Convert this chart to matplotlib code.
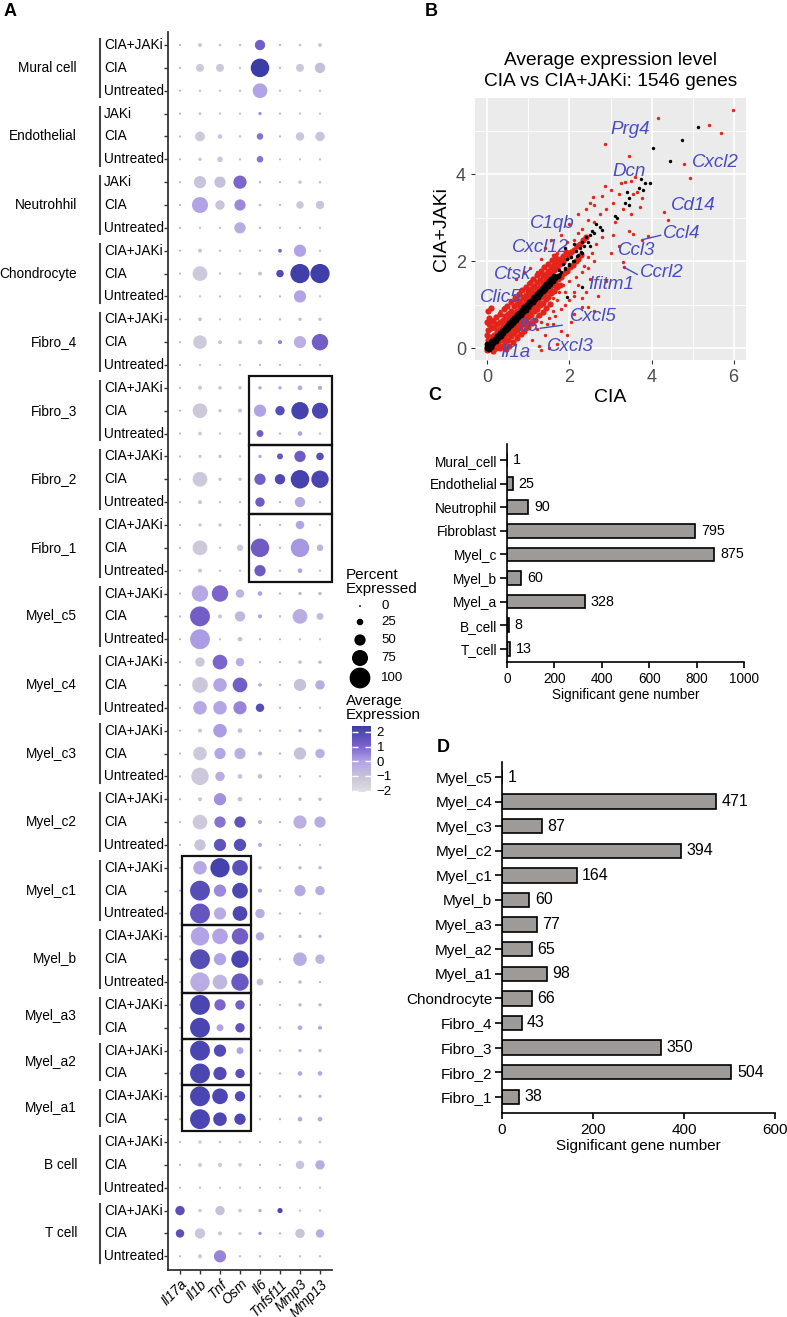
import numpy as np
import matplotlib
matplotlib.use('Agg')
import matplotlib.pyplot as plt
from matplotlib.colors import LinearSegmentedColormap, Normalize
from matplotlib.patches import Rectangle
from matplotlib.cm import ScalarMappable
import matplotlib.transforms as mtrans

plt.rcParams['font.family'] = ['Liberation Sans', 'DejaVu Sans']

W, H = 787, 1317

########## Panel A data ##########
genes = ['Il17a', 'Il1b', 'Tnf', 'Osm', 'Il6', 'Tnfsf11', 'Mmp3', 'Mmp13']
std = ['CIA+JAKi', 'CIA', 'Untreated']
two = ['CIA+JAKi', 'CIA']
groups = ['Mural cell', 'Endothelial', 'Neutrohhil', 'Chondrocyte', 'Fibro_4', 'Fibro_3',
          'Fibro_2', 'Fibro_1', 'Myel_c5', 'Myel_c4', 'Myel_c3', 'Myel_c2', 'Myel_c1',
          'Myel_b', 'Myel_a3', 'Myel_a2', 'Myel_a1', 'B cell', 'T cell']
group_conds = [std, ['JAKi', 'CIA', 'Untreated'], ['JAKi', 'CIA', 'Untreated'], std, std, std,
               std, std, std, std, std, std, std, std, two, two, two, std, std]

# percent expressed, one row per group/condition (top to bottom)
pct = [
    [2, 10, 4, 4, 45, 3, 4, 10], [2, 32, 32, 3, 88, 3, 32, 45], [2, 3, 3, 3, 68, 2, 3, 3],        # Mural
    [2, 5, 3, 3, 8, 2, 3, 3], [2, 42, 15, 4, 25, 2, 35, 40], [2, 8, 20, 3, 25, 2, 3, 3],          # Endo
    [2, 55, 50, 60, 4, 2, 8, 4], [2, 75, 40, 50, 4, 2, 30, 35], [2, 3, 3, 50, 3, 2, 3, 3],        # Neutro
    [2, 12, 3, 3, 3, 10, 55, 3], [2, 68, 4, 4, 10, 30, 92, 92], [2, 3, 3, 3, 3, 2, 55, 3],        # Chondro
    [2, 10, 3, 3, 3, 3, 8, 8], [2, 62, 12, 12, 15, 12, 55, 77], [2, 3, 3, 3, 3, 2, 3, 3],         # Fibro_4
    [2, 12, 8, 8, 8, 8, 15, 12], [2, 68, 8, 12, 55, 40, 82, 75], [2, 10, 3, 3, 27, 3, 15, 3],     # Fibro_3
    [2, 8, 8, 3, 8, 22, 50, 30], [2, 68, 8, 8, 50, 45, 88, 82], [2, 12, 3, 3, 40, 3, 45, 3],      # Fibro_2
    [2, 8, 8, 3, 3, 3, 35, 3], [2, 68, 3, 25, 88, 3, 88, 25], [2, 12, 3, 3, 50, 3, 15, 3],        # Fibro_1
    [2, 77, 77, 35, 15, 3, 8, 8], [2, 95, 12, 45, 12, 3, 68, 27], [2, 95, 3, 15, 3, 2, 3, 3],     # Myel_c5
    [2, 40, 68, 35, 3, 3, 8, 8], [2, 73, 62, 68, 10, 3, 55, 40], [2, 62, 62, 60, 35, 3, 3, 3],    # Myel_c4
    [2, 12, 62, 15, 3, 3, 8, 8], [2, 62, 50, 50, 12, 3, 55, 40], [2, 82, 40, 15, 15, 3, 3, 3],    # Myel_c3
    [2, 12, 55, 15, 3, 3, 8, 8], [2, 68, 50, 50, 12, 3, 60, 50], [2, 50, 55, 55, 12, 3, 3, 3],    # Myel_c2
    [2, 62, 92, 73, 8, 3, 8, 8], [2, 95, 55, 73, 12, 3, 50, 40], [2, 95, 55, 68, 40, 3, 3, 3],    # Myel_c1
    [2, 88, 73, 77, 35, 3, 8, 8], [2, 95, 55, 82, 4, 3, 62, 40], [2, 92, 68, 82, 27, 3, 8, 3],    # Myel_b
    [2, 95, 50, 40, 3, 3, 8, 8], [2, 95, 27, 40, 3, 3, 15, 12],                                   # Myel_a3
    [2, 95, 55, 27, 3, 3, 8, 8], [2, 95, 60, 40, 3, 3, 15, 15],                                   # Myel_a2
    [2, 95, 73, 45, 3, 3, 8, 8], [2, 95, 62, 50, 3, 3, 15, 15],                                   # Myel_a1
    [2, 8, 5, 5, 2, 2, 10, 5], [2, 12, 12, 10, 3, 2, 35, 40], [2, 3, 3, 3, 2, 2, 3, 3],           # B cell
    [40, 8, 40, 10, 8, 18, 3, 3], [35, 45, 12, 8, 8, 3, 40, 35], [2, 12, 55, 3, 3, 2, 3, 3],      # T cell
]
# average (scaled) expression
avg = [
    [-0.5, -1, -1, -1, 1.2, -0.5, -1, -1], [-0.5, -1.3, -1.2, -1, 2.4, -0.5, -1.2, -0.9], [-0.5, -1, -1, -1, 0, -0.5, -1, -1],
    [-0.5, -1, -1, -1, 0.3, -0.5, -1, -1], [-0.5, -1.3, -1.2, -1, 0.8, -0.5, -1.2, -1.1], [-0.5, -1, -1.2, -1, 0.8, -0.5, -1, -1],
    [-0.5, -1.1, -1, 1.0, -0.5, -0.5, -1, -1], [-0.5, 0, -1.1, 0.4, -0.5, -0.5, -1.2, -1.1], [-0.5, -1, -1, -0.3, -0.5, -0.5, -1, -1],
    [-0.5, -1.2, -1, -1, -0.5, 1.2, 0, -1], [-0.5, -1.3, -1, -1, -0.8, 1.9, 2.3, 2.3], [-0.5, -1, -1, -1, -0.5, -0.5, 0, -1],
    [-0.5, -1, -1, -1, -0.5, -0.5, -0.8, -0.8], [-0.5, -1.3, -1.2, -1.2, -0.9, 0.6, -0.4, 1.2], [-0.5, -1, -1, -1, -0.5, -0.5, -1, -1],
    [-0.5, -1.2, -1, -1, 0, 0, -0.2, 0], [-0.5, -1.3, -1, -1.2, 0, 1.8, 2.2, 2.1], [-0.5, -1.2, -1, -1, 1.2, -0.5, 0, -1],
    [-0.5, -1.2, -1, -1, 0, 1.5, 1.3, 1.8], [-0.5, -1.3, -1, -1, 1.2, 2.0, 2.2, 2.1], [-0.5, -1.2, -1, -1, 1.3, -0.5, -0.2, -1],
    [-0.5, -1.2, -1, -1, -0.5, -0.5, 0, -1], [-0.5, -1.3, -1, -1.3, 1.3, -0.5, 0.2, -0.6], [-0.5, -1.2, -1, -1, 1.3, -0.5, 0, -1],
    [-0.5, -0.2, 1.0, -0.6, 0, -0.5, -0.5, -0.5], [-0.5, 1.2, -1.2, -0.7, 0, -0.5, -0.3, -0.8], [-0.5, 0.1, -1, -1, -0.5, -0.5, -1, -1],
    [-0.5, -1.2, 1.0, -0.3, -0.5, -0.5, -0.5, -0.5], [-0.5, -1.2, -0.1, 1.2, -0.3, -0.5, -1.0, -0.3], [-0.5, -0.2, -0.1, 0.5, 1.8, -0.5, -0.8, -0.8],
    [-0.5, -1.2, 0.1, -1, -0.5, -0.5, -0.5, -0.5], [-0.5, -1.3, -0.1, -0.4, -0.5, -0.5, -1.0, -0.4], [-0.5, -1.3, -0.3, -1, -0.9, -0.5, -0.8, -0.8],
    [-0.5, -1.2, 0.3, -1, -0.5, -0.5, -0.5, -0.5], [-0.5, -1.3, 0.8, 1.6, -0.5, -0.5, -0.4, -0.3], [-0.5, -1.1, 1.6, 1.8, -0.2, -0.5, -0.8, -0.8],
    [-0.5, -0.2, 2.2, 1.7, -0.3, -0.5, -0.5, -0.5], [-0.5, 1.8, 0.4, 2.0, -0.2, -0.5, -0.2, -0.3], [-0.5, 1.5, -0.3, 2.0, -0.3, -0.5, -0.8, -0.8],
    [-0.5, 0, 0, 1.2, -0.2, -0.5, -0.5, -0.5], [-0.5, 1.8, 0, 2.1, -0.5, -0.5, -0.3, -0.6], [-0.5, -0.3, -0.7, 1.4, -0.9, -0.5, -0.5, -0.8],
    [-0.5, 2.1, 1.0, 1.2, -0.5, -0.5, -0.5, -0.5], [-0.5, 2.1, 0, 1.6, -0.5, -0.5, -0.2, -0.2],
    [-0.5, 2.1, 1.9, 0, -0.5, -0.5, -0.5, -0.5], [-0.5, 2.1, 1.9, 1.7, -0.5, -0.5, -0.2, -0.2],
    [-0.5, 2.1, 2.0, 1.9, -0.5, -0.5, -0.5, -0.5], [-0.5, 2.1, 2.0, 2.0, -0.5, -0.5, -0.2, -0.2],
    [-0.5, -1.2, -1, -1, -0.5, -0.5, -1, -1], [-0.5, -1.3, -1.2, -1.2, -0.5, -0.5, -1.1, -0.3], [-0.5, -1, -1, -1, -0.5, -0.5, -1, -1],
    [1.7, -1.2, -1.0, -1.2, 0, 2.0, -0.8, -0.8], [1.7, -1.2, -1.2, -1.2, 0.3, -0.5, -1.1, -0.3], [-0.5, -1.2, 0.5, -1, -0.5, -0.5, -0.8, -0.8],
]
# boxed blocks: (group, first gene, last gene)
boxes = [('Fibro_3', 'Il6', 'Mmp13'), ('Fibro_2', 'Il6', 'Mmp13'), ('Fibro_1', 'Il6', 'Mmp13'),
         ('Myel_c1', 'Il1b', 'Osm'), ('Myel_b', 'Il1b', 'Osm'), ('Myel_a3', 'Il1b', 'Osm'),
         ('Myel_a2', 'Il1b', 'Osm'), ('Myel_a1', 'Il1b', 'Osm')]
legend_pct = [0, 25, 50, 75, 100]

########## Panel B data ##########
# dense band around the diagonal
red_core_x = [0.02, 0.09, 0.16, 0.23, 0.30, 0.37, 0.44, 0.51, 0.58, 0.65, 0.72, 0.79, 0.86, 0.93, 1.00, 1.07, 1.14, 1.21, 1.28, 1.35, 1.42, 1.49, 1.56, 1.63, 1.70, 1.77, 1.84, 1.91,
              0.02, 0.09, 0.16, 0.23, 0.30, 0.37, 0.44, 0.51, 0.58, 0.65, 0.72, 0.79, 0.86, 0.93, 1.00, 1.07, 1.14, 1.21, 1.28, 1.35, 1.42, 1.49, 1.56, 1.63, 1.70, 1.77, 1.84, 1.91, 1.98, 2.05, 2.12, 2.19, 2.26, 2.33, 2.40,
              0.12, 0.19, 0.26, 0.33, 0.40, 0.47, 0.54, 0.61, 0.68, 0.75, 0.82, 0.89, 0.96, 1.03, 1.10, 1.17, 1.24, 1.31, 1.38, 1.45, 1.52, 1.59, 1.66, 1.73, 1.80, 1.87, 1.94, 2.01, 2.08, 2.15, 2.22, 2.29,
              0.30, 0.37, 0.44, 0.51, 0.58, 0.65, 0.72, 0.79, 0.86, 0.93, 1.00, 1.07, 1.14, 1.21, 1.28, 1.35, 1.42, 1.49, 1.56, 1.63, 1.70, 1.77,
              0.00, 0.04, 0.00, 0.06, 0.12, 0.10, 0.20, 0.28, 0.00, 0.15, 0.02, 0.08,
              0.05, 0.14, 0.22, 0.31, 0.40, 0.49, 0.58, 0.67, 0.76, 0.85, 0.94, 1.03, 1.12, 1.21, 1.30, 1.39, 1.48, 1.57, 1.66,
              0.45, 0.54, 0.63, 0.72, 0.81, 0.90, 0.99, 1.08, 1.17, 1.26, 1.35, 1.44, 1.53]
red_core_y = [0.42, 0.46, 0.50, 0.55, 0.61, 0.66, 0.75, 0.80, 0.86, 0.97, 1.01, 1.08, 1.17, 1.22, 1.31, 1.36, 1.43, 1.52, 1.57, 1.66, 1.71, 1.78, 1.87, 1.92, 2.01, 2.06, 2.13, 2.21,
              0.20, 0.26, 0.30, 0.39, 0.44, 0.52, 0.58, 0.67, 0.72, 0.81, 0.86, 0.95, 1.00, 1.09, 1.14, 1.23, 1.28, 1.37, 1.42, 1.51, 1.56, 1.65, 1.70, 1.79, 1.84, 1.93, 1.98, 2.07, 2.12, 2.21, 2.26, 2.35, 2.41, 2.49, 2.56,
              -0.02, 0.05, 0.10, 0.19, 0.24, 0.33, 0.38, 0.47, 0.52, 0.61, 0.66, 0.75, 0.80, 0.89, 0.94, 1.03, 1.08, 1.17, 1.22, 1.31, 1.36, 1.45, 1.50, 1.59, 1.64, 1.73, 1.78, 1.87, 1.92, 2.01, 2.06, 2.15,
              0.01, 0.06, 0.15, 0.20, 0.29, 0.34, 0.43, 0.48, 0.57, 0.62, 0.71, 0.76, 0.85, 0.90, 0.99, 1.04, 1.13, 1.18, 1.27, 1.32, 1.41, 1.46,
              0.60, 0.70, 0.30, 0.10, 0.62, 0.00, 0.01, 0.05, -0.05, -0.06, 0.85, 0.92,
              0.55, 0.62, 0.72, 0.80, 0.90, 0.98, 1.07, 1.15, 1.24, 1.33, 1.42, 1.50, 1.60, 1.68, 1.78, 1.86, 1.95, 2.04, 2.12,
              -0.02, 0.06, 0.14, 0.24, 0.32, 0.40, 0.50, 0.58, 0.66, 0.76, 0.84, 0.92, 1.02]
red_x = [0.7, 0.9, 1.05, 1.3, 1.4, 1.6, 1.8, 1.55, 1.2, 1.0, 2.0, 2.2, 2.6, 2.8, 3.0, 3.25, 2.4,
         1.2, 1.3, 1.5, 1.6, 1.8, 2.0, 2.1, 2.3, 2.4, 2.2, 2.5, 2.7, 2.9, 2.6, 1.9, 1.7, 1.4, 1.1, 1.25, 1.5, 1.7, 1.3, 1.8, 1.95, 2.05,
         3.0, 3.2, 3.45, 3.1, 3.5, 3.65, 3.3, 3.05,
         2.87, 3.45, 4.15, 5.98, 5.39, 5.68, 4.78, 4.93, 4.3, 4.4, 3.76, 3.91, 3.3, 3.33, 3.55, 3.72, 3.76, 2.87, 2.57, 2.5,
         2.1, 2.3, 2.6, 2.75, 2.9, 3.05, 0.55, 0.8, 0.4, 0.3, 1.0, 0.75, 0.6, 2.45, 2.65, 2.8, 2.35, 2.55,
         3.35, 3.5, 3.6, 3.55, 3.2, 2.1, 2.3, 2.45, 1.6, 1.45,
         1.5, 1.6, 1.75, 1.85, 2.0, 2.15, 2.3, 1.35, 1.2, 1.05, 0.95, 0.85, 2.45, 2.6, 1.65, 1.9, 2.1,
         0.5, 0.65, 0.85, 1.05, 1.25, 1.45, 1.7, 1.95, 2.2, 2.45]
red_y = [1.6, 1.75, 1.85, 2.05, 2.3, 2.15, 2.6, 2.5, 1.75, 1.5, 2.85, 3.1, 3.3, 3.5, 3.65, 3.8, 3.2,
         0.45, 0.6, 0.7, 0.55, 0.9, 1.1, 0.8, 0.95, 1.3, 1.45, 1.6, 1.2, 1.55, 0.85, 1.3, 1.1, 0.3, 0.2, 0.05, 0.0, 0.1, -0.05, 0.4, 0.3, 0.6,
         2.2, 2.35, 2.7, 2.9, 3.1, 3.6, 3.2, 2.6,
         4.71, 4.43, 5.3, 5.49, 5.14, 4.96, 4.23, 3.93, 3.13, 2.95, 2.49, 2.58, 1.99, 1.87, 2.63, 3.24, 3.45, 3.73, 3.47, 3.34,
         2.5, 2.75, 2.9, 3.1, 3.2, 3.35, 1.1, 1.35, 0.95, 0.85, 0.55, 0.3, 0.15, 2.1, 2.4, 2.55, 1.9, 2.2,
         3.82, 3.85, 3.95, 3.55, 3.55, 1.2, 1.15, 0.95, 0.85, 0.55,
         1.0, 1.15, 1.3, 1.45, 1.55, 1.65, 1.75, 0.85, 0.75, 0.6, 0.45, 0.35, 1.85, 2.0, 0.75, 1.0, 1.3,
         0.95, 1.2, 1.35, 1.55, 1.7, 1.95, 2.2, 2.45, 2.65, 2.95]
black_core_x = [0.00, 0.06, 0.12, 0.18, 0.24, 0.30, 0.36, 0.42, 0.48, 0.54, 0.60, 0.66, 0.72, 0.78, 0.84, 0.90, 0.96, 1.02, 1.08, 1.14, 1.20, 1.26, 1.32, 1.38, 1.44, 1.50, 1.56, 1.62,
                0.03, 0.09, 0.15, 0.21, 0.27, 0.33, 0.39, 0.45, 0.51, 0.57, 0.63, 0.69, 0.75, 0.81, 0.87, 0.93, 0.99, 1.05, 1.11, 1.17, 1.23, 1.29, 1.35, 1.41, 1.47, 1.53, 1.59, 1.65, 1.71,
                0.00, 0.02, 0.05, 0.00, 0.08, 0.10]
black_core_y = [0.03, 0.10, 0.16, 0.22, 0.28, 0.34, 0.40, 0.46, 0.52, 0.58, 0.64, 0.70, 0.76, 0.82, 0.88, 0.94, 1.00, 1.06, 1.12, 1.18, 1.24, 1.30, 1.36, 1.42, 1.48, 1.54, 1.60, 1.66,
                -0.01, 0.05, 0.11, 0.17, 0.23, 0.29, 0.35, 0.41, 0.47, 0.53, 0.59, 0.65, 0.71, 0.77, 0.83, 0.89, 0.95, 1.01, 1.07, 1.13, 1.19, 1.25, 1.31, 1.37, 1.43, 1.49, 1.55, 1.61, 1.67,
                0.00, 0.05, 0.00, 0.10, 0.15, 0.02]
black_x = [1.75, 1.8, 1.85, 1.9, 1.95, 2.0, 2.05, 2.1, 2.15, 2.2, 2.25, 2.3, 2.35, 2.4, 2.45, 2.5, 2.55, 2.6, 2.65, 2.75, 2.8,
           3.1, 3.15, 3.35, 3.4, 3.45, 3.45, 3.7, 3.75, 3.8, 3.85, 3.95, 4.03, 4.44, 4.74, 5.12, 2.1, 2.3, 1.9, 2.5, 1.94, 2.3,
           1.78, 1.88, 1.98, 2.08, 2.18, 2.28]
black_y = [1.8, 1.75, 1.95, 1.85, 2.05, 1.95, 2.1, 2.0, 2.25, 2.15, 2.3, 2.45, 2.35, 2.55, 2.45, 2.6, 2.7, 2.65, 2.85, 2.8, 2.72,
           3.05, 3.0, 3.35, 3.6, 3.45, 3.3, 3.7, 3.9, 3.65, 3.8, 3.8, 4.6, 4.3, 4.8, 5.1, 2.4, 2.2, 2.3, 2.35, 1.17, 1.4,
           1.72, 1.82, 1.92, 2.02, 2.12, 2.22]
gene_labels = ['Prg4', 'Dcn', 'Cxcl2', 'Cd14', 'Ccl4', 'Ccl3', 'Ccrl2', 'C1qb', 'Cxcl12',
               'Ctsk', 'Ifitm1', 'Clic5', 'Cxcl5', 'Il6', 'Il1a', 'Cxcl3']
gene_label_x = [2.99, 3.05, 4.98, 4.47, 4.28, 3.18, 3.72, 1.04, 0.60, 0.15, 2.45, -0.17, 2.02, 0.75, 0.32, 1.46]
gene_label_y = [5.03, 4.07, 4.27, 3.29, 2.65, 2.24, 1.74, 2.88, 2.33, 1.69, 1.46, 1.17, 0.73, 0.50, -0.09, 0.05]
# leader lines (from point to label)
leader_x = [(3.78, 4.22), (3.32, 3.65), (1.29, 1.82)]
leader_y = [(2.50, 2.60), (1.87, 1.70), (0.46, 0.53)]

########## Panel C / D data ##########
c_cells = ['Mural_cell', 'Endothelial', 'Neutrophil', 'Fibroblast', 'Myel_c', 'Myel_b',
           'Myel_a', 'B_cell', 'T_cell']
c_counts = [1, 25, 90, 795, 875, 60, 328, 8, 13]
d_cells = ['Myel_c5', 'Myel_c4', 'Myel_c3', 'Myel_c2', 'Myel_c1', 'Myel_b', 'Myel_a3',
           'Myel_a2', 'Myel_a1', 'Chondrocyte', 'Fibro_4', 'Fibro_3', 'Fibro_2', 'Fibro_1']
d_counts = [1, 471, 87, 394, 164, 60, 77, 65, 98, 66, 43, 350, 504, 38]


######### Helpers ##########
fig = plt.figure(figsize=(W / 100, H / 100), dpi=100)


def px_axes(left, top, right, bottom):
    return fig.add_axes([left / W, 1 - bottom / H, (right - left) / W, (bottom - top) / H])


def dot_size(p):
    d = 1.8 + 0.19 * np.asarray(p, dtype=float)   # diameter in pixels
    return (d * 72 / 100) ** 2


cmap = LinearSegmentedColormap.from_list(
    'dot', [(0.0, '#E0DFE2'), (0.244, '#C6C1D8'), (0.467, '#B2A3E6'),
            (0.689, '#7C64CC'), (1.0, '#3C3CA8')])
norm = Normalize(vmin=-2.1, vmax=2.4)

########## Panel A ##########
axA = px_axes(168, 32, 332, 1270)
P = np.array(pct)
E = np.array(avg)
nrow = P.shape[0]
yy, xx = np.meshgrid(np.arange(nrow), np.arange(len(genes)), indexing='ij')
axA.scatter(xx.ravel(), yy.ravel(), s=dot_size(P.ravel()), c=E.ravel(), cmap=cmap, norm=norm,
            linewidths=0, zorder=3)
axA.set_xlim(-0.6, 7.6)
axA.set_ylim(53.6, -0.57)
for s in ['top', 'right']:
    axA.spines[s].set_visible(False)
for s in ['left', 'bottom']:
    axA.spines[s].set_linewidth(1.3)
    axA.spines[s].set_color('#333333')
axA.set_yticks(range(nrow))
axA.set_yticklabels([])
axA.set_xticks(range(len(genes)))
axA.set_xticklabels(genes, rotation=45, ha='right', rotation_mode='anchor',
                    style='italic', fontsize=10)
axA.tick_params(length=3, width=1, color='#333333', pad=2)

trans = mtrans.blended_transform_factory(fig.transFigure, axA.transData)
row = 0
group_rows = {}
for g, conds in zip(groups, group_conds):
    r0 = row
    for c in conds:
        axA.text(104 / W, row, c, transform=trans, ha='left', va='center', fontsize=9.8)
        row += 1
    r1 = row - 1
    group_rows[g] = (r0, r1)
    axA.plot([100 / W, 100 / W], [r0 - 0.28, r1 + 0.28], transform=trans, color='#444444',
             lw=1.5, clip_on=False)
    axA.text(77 / W, (r0 + r1) / 2, g, transform=trans, ha='right', va='center', fontsize=9.8)

for g, ge0, ge1 in boxes:
    top = group_rows[g][0] - 0.5
    bot = group_rows[g][1] + 0.5
    j0 = genes.index(ge0)
    j1 = genes.index(ge1)
    if j0 == 1:
        x0, x1 = 0.1, j1 + 0.55
    else:
        x0, x1 = j0 - 0.55, j1 + 0.59
    axA.add_patch(Rectangle((x0, top), x1 - x0, bot - top, fill=False, ec='#111111', lw=1.6,
                            zorder=4, clip_on=False))

# overlay for legend and panel letters
over = fig.add_axes([0, 0, 1, 1])
over.set_xlim(0, W)
over.set_ylim(H, 0)
over.axis('off')
over.patch.set_alpha(0)

over.text(346, 582, 'Percent\nExpressed', fontsize=11, ha='left', va='center', linespacing=1.05)
leg_y = [606, 622, 640, 658, 678]
over.scatter([360] * len(legend_pct), leg_y, s=dot_size(legend_pct), color='black', linewidths=0)
for p, y in zip(legend_pct, leg_y):
    over.text(381, y, str(p), fontsize=9.5, ha='left', va='center')
over.text(346, 708, 'Average\nExpression', fontsize=11, ha='left', va='center', linespacing=1.05)

cax = px_axes(352, 726, 371, 792)
cb = fig.colorbar(ScalarMappable(norm=norm, cmap=cmap), cax=cax)
cb.outline.set_visible(False)
cb.set_ticks([-2, -1, 0, 1, 2])
cb.set_ticklabels(['\u22122', '\u22121', '0', '1', '2'])
cax.tick_params(axis='y', direction='in', color='white', length=4, width=1, pad=4,
                labelsize=9.5, left=True, right=True)

for letter, x, y in [('A', 4, 12), ('B', 425, 11), ('C', 428, 396), ('D', 437, 748)]:
    over.text(x, y, letter, fontsize=13, fontweight='bold', ha='left', va='center')

########## Panel B ##########
axB = px_axes(475, 98, 746, 360)
axB.set_facecolor('#EBEBEB')
axB.scatter(red_core_x, red_core_y, s=20, color='#E3241B', linewidths=0, zorder=2)
axB.scatter(red_x, red_y, s=6, color='#E3241B', linewidths=0, zorder=2)
axB.scatter(black_core_x, black_core_y, s=18, color='black', linewidths=0, zorder=3)
axB.scatter(black_x, black_y, s=6, color='black', linewidths=0, zorder=3)
lab_col = '#4A4CC0'
for t, x, y in zip(gene_labels, gene_label_x, gene_label_y):
    axB.text(x, y, t, color=lab_col, style='italic', fontsize=13.5, ha='left', va='center',
             zorder=5)
for lx, ly in zip(leader_x, leader_y):
    axB.plot(lx, ly, color=lab_col, lw=1, zorder=5)
axB.set_xlim(-0.3, 6.3)
axB.set_ylim(-0.27, 5.76)
axB.set_xticks([0, 2, 4, 6])
axB.set_yticks([0, 2, 4])
axB.set_xticks([1, 3, 5], minor=True)
axB.set_yticks([1, 3, 5], minor=True)
axB.grid(which='major', color='white', lw=1.2)
axB.grid(which='minor', color='white', lw=0.6)
axB.set_axisbelow(True)
for s in axB.spines.values():
    s.set_visible(False)
axB.tick_params(which='major', length=3, color='#333333', labelcolor='#4D4D4D', labelsize=13)
axB.tick_params(which='minor', length=0)
axB.set_title('Average expression level\nCIA vs CIA+JAKi: 1546 genes', fontsize=13.8, pad=9,
              linespacing=1.3)
axB.set_xlabel('CIA', fontsize=14, labelpad=2)
axB.set_ylabel('CIA+JAKi', fontsize=14, labelpad=4)


########## Panel C and D ##########
def bar_panel(ax, cells, counts, xmax, xticks, fs):
    ax.barh(range(len(cells)), counts, height=0.58, color='#9D9A98', edgecolor='black', lw=1.2)
    for i, v in enumerate(counts):
        ax.annotate(str(v), (v, i), xytext=(4, 0), textcoords='offset points', va='center',
                    fontsize=fs + 0.5)
    ax.set_xlim(0, xmax)
    ax.set_xticks(xticks)
    ax.set_yticks(range(len(cells)))
    ax.set_yticklabels(cells, fontsize=fs)
    ax.tick_params(axis='x', labelsize=fs, length=4, width=1.2)
    ax.tick_params(axis='y', length=5, width=1.2, pad=2)
    ax.spines['top'].set_visible(False)
    ax.spines['right'].set_visible(False)
    ax.spines['left'].set_linewidth(1.2)
    ax.spines['bottom'].set_linewidth(1.2)
    ax.set_xlabel('Significant gene number', fontsize=fs, labelpad=1)


axC = px_axes(507, 444, 744, 662)
bar_panel(axC, c_cells, c_counts, 1000, [0, 200, 400, 600, 800, 1000], 9.8)
axC.set_ylim(8.56, -0.68)

axD = px_axes(502, 762, 775, 1113)
bar_panel(axD, d_cells, d_counts, 600, [0, 200, 400, 600], 11)
axD.set_ylim(13.66, -0.61)

fig.savefig('out.png', dpi=100)
